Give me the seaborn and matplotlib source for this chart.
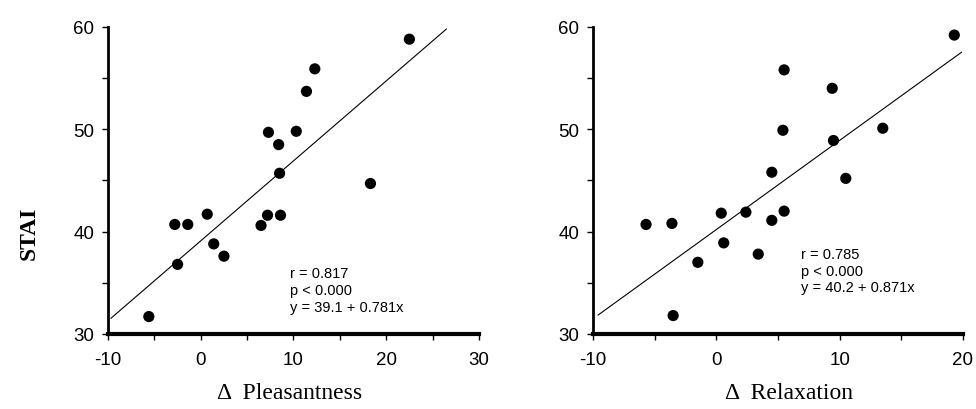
import matplotlib
matplotlib.use("Agg")
import matplotlib.pyplot as plt
import seaborn as sns
import pandas as pd

# Δ Pleasantness vs STAI
pleas_x = [-5.6, -2.8, -1.4, -2.5, 0.7, 1.4, 2.5, 6.5, 7.2, 8.6, 8.5, 8.4, 7.3, 10.3, 11.4, 12.3, 18.3, 22.5]
pleas_stai = [31.7, 40.7, 40.7, 36.8, 41.7, 38.8, 37.6, 40.6, 41.6, 41.6, 45.7, 48.5, 49.7, 49.8, 53.7, 55.9, 44.7, 58.8]

# Δ Relaxation vs STAI
relax_x = [-5.7, -3.6, -3.5, -1.5, 0.4, 0.6, 2.4, 3.4, 4.5, 4.5, 5.5, 5.4, 5.5, 9.5, 9.4, 10.5, 13.5, 19.3]
relax_stai = [40.7, 40.8, 31.8, 37.0, 41.8, 38.9, 41.9, 37.8, 41.1, 45.8, 42.0, 49.9, 55.8, 48.9, 54.0, 45.2, 50.1, 59.2]

# regression lines as printed on the chart (intercept, slope, x range)
pleas_fit = (39.1, 0.781, [-9.7, 26.5])
relax_fit = (40.2, 0.871, [-9.6, 19.9])

pleas_stats = "r = 0.817\np < 0.000\ny = 39.1 + 0.781x"
relax_stats = "r = 0.785\np < 0.000\ny = 40.2 + 0.871x"

sns.set_theme(style="ticks")
plt.rcParams["font.family"] = ["Liberation Sans", "DejaVu Sans"]
plt.rcParams["axes.unicode_minus"] = False

fig = plt.figure(figsize=(9.76, 4.10), dpi=100)
ax1 = fig.add_axes([0.1107, 0.183, 0.380, 0.749])
ax2 = fig.add_axes([0.6076, 0.183, 0.379, 0.749])


def draw_panel(ax, xs, ys, fit, stats, stats_pos, xlim, xlabel, label_x):
    df = pd.DataFrame({"x": xs, "stai": ys})
    sns.scatterplot(data=df, x="x", y="stai", ax=ax, color="black", s=65,
                    edgecolor="none", zorder=3)
    a, b, xr = fit
    line = pd.DataFrame({"x": xr, "y": [a + b * v for v in xr]})
    sns.lineplot(data=line, x="x", y="y", ax=ax, color="black", linewidth=0.8)

    ax.set_xlim(*xlim)
    ax.set_ylim(30, 60)
    ax.set_xticks(list(range(xlim[0], xlim[1] + 1, 10)))
    ax.set_xticks(list(range(xlim[0], xlim[1] + 1, 5)), minor=True)
    ax.set_yticks([30, 40, 50, 60])
    ax.set_yticks([35, 45, 55], minor=True)
    ax.tick_params(which="both", direction="out", length=4, width=1,
                   color="black", labelsize=13.5, labelcolor="black")
    ax.tick_params(axis="x", pad=8)
    ax.tick_params(axis="y", pad=6)

    for s in ["top", "right"]:
        ax.spines[s].set_visible(False)
    ax.spines["left"].set_linewidth(2)
    ax.spines["bottom"].set_linewidth(3)
    ax.spines["left"].set_color("black")
    ax.spines["bottom"].set_color("black")

    ax.set_ylabel("")
    ax.set_xlabel(xlabel, family=["Liberation Serif", "DejaVu Serif"],
                  fontsize=17, color="black")
    ax.xaxis.set_label_coords(label_x, -0.155)
    ax.text(stats_pos[0], stats_pos[1], stats, fontsize=10.5, va="top",
            ha="left", linespacing=1.25, color="black")


draw_panel(ax1, pleas_x, pleas_stai, pleas_fit, pleas_stats, (9.6, 36.6),
           (-10, 30), "Δ  Pleasantness", 0.49)
draw_panel(ax2, relax_x, relax_stai, relax_fit, relax_stats, (6.9, 38.5),
           (-10, 20), "Δ  Relaxation", 0.53)

fig.text(0.03, 0.43, "STAI", rotation=90, ha="center", va="center",
         family=["Liberation Serif", "DejaVu Serif"], fontsize=17,
         fontweight="bold", color="black")

fig.savefig("out.png", dpi=100)
